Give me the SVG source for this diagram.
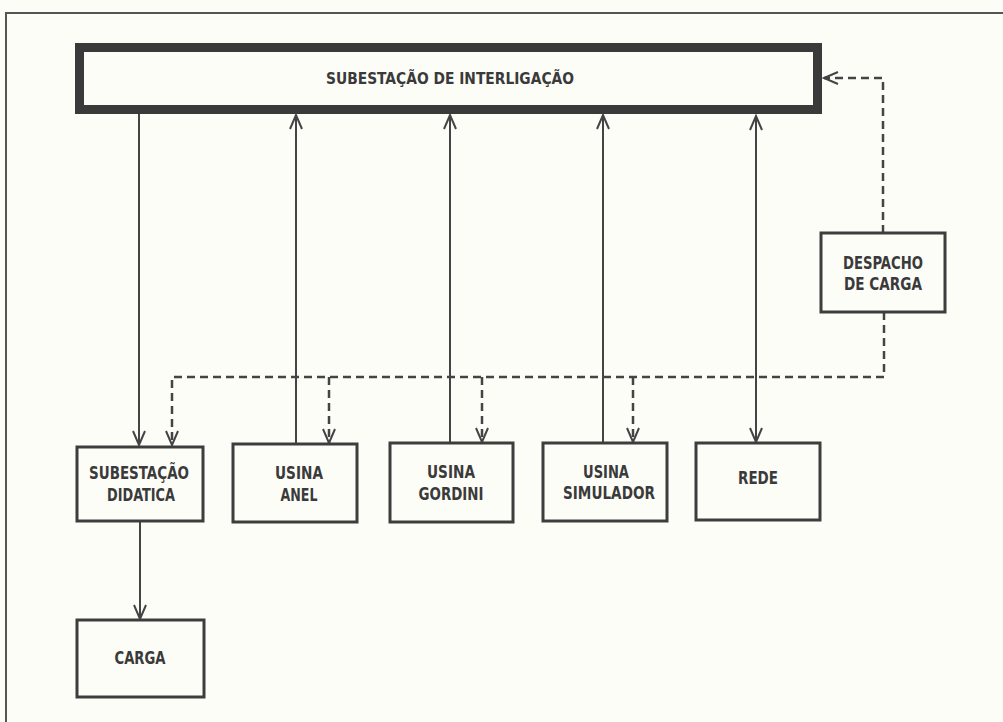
<svg xmlns="http://www.w3.org/2000/svg" width="1003" height="722" viewBox="0 0 1003 722">
<defs>
<style>
.bg{fill:#fdfdf8}
.frame{fill:none;stroke:#555;stroke-width:2}
.box{fill:none;stroke:#3d3d3d;stroke-width:3}
.main{fill:none;stroke:#3a3a3a;stroke-width:9}
.t{font-family:"Liberation Sans Narrow","DejaVu Sans Condensed","Liberation Sans",sans-serif;font-size:18px;font-weight:bold;fill:#3a3a3a;text-anchor:middle}
.tt{font-size:15px}
.solid{fill:none;stroke:#444;stroke-width:2}
.dash{fill:none;stroke:#444;stroke-width:2.5;stroke-dasharray:8 5}
</style>
<marker id="ah" markerUnits="userSpaceOnUse" viewBox="-16 -8 18 16" refX="0" refY="0" markerWidth="18" markerHeight="16" orient="auto-start-reverse">
<path d="M-14,-6 L0,0 L-14,6" fill="none" stroke="#444" stroke-width="2"/>
</marker>
</defs>
<rect class="bg" x="0" y="0" width="1003" height="722"/>
<path class="frame" d="M6,722 L6,13 L1003,13"/>

<g id="connectors">
<line class="solid" x1="139" y1="114" x2="139" y2="445" marker-end="url(#ah)"/>
<line class="solid" x1="296" y1="444" x2="296" y2="115" marker-end="url(#ah)"/>
<line class="solid" x1="450" y1="443" x2="450" y2="115" marker-end="url(#ah)"/>
<line class="solid" x1="603" y1="443" x2="603" y2="115" marker-end="url(#ah)"/>
<line class="solid" x1="756" y1="116" x2="756" y2="442" marker-start="url(#ah)" marker-end="url(#ah)"/>
<line class="solid" x1="140" y1="521" x2="140" y2="619" marker-end="url(#ah)"/>
<path class="dash" d="M883,233 L883,78 L824,78" marker-end="url(#ah)"/>
<path class="dash" d="M884,312 L884,377 L172,377 L172,445" marker-end="url(#ah)"/>
<path class="dash" d="M329,377 L329,443" marker-end="url(#ah)"/>
<path class="dash" d="M482,377 L482,442" marker-end="url(#ah)"/>
<path class="dash" d="M633,377 L633,442" marker-end="url(#ah)"/>
</g>

<g id="subestacao-interligacao">
<rect class="main" x="79.5" y="47.5" width="738" height="62"/>
<text class="t tt" x="450" y="84" textLength="248" lengthAdjust="spacingAndGlyphs">SUBESTAÇÃO DE INTERLIGAÇÃO</text>
</g>

<g id="despacho">
<rect class="box" x="821" y="233" width="124" height="79"/>
<text class="t" x="883" y="269" textLength="80" lengthAdjust="spacingAndGlyphs">DESPACHO</text>
<text class="t" x="883" y="290" textLength="78" lengthAdjust="spacingAndGlyphs">DE CARGA</text>
</g>

<g id="subestacao-didatica">
<rect class="box" x="77" y="447" width="126" height="74"/>
<text class="t" x="139" y="479" textLength="100" lengthAdjust="spacingAndGlyphs">SUBESTAÇÃO</text>
<text class="t" x="141" y="501" textLength="68" lengthAdjust="spacingAndGlyphs">DIDATICA</text>
</g>

<g id="usina-anel">
<rect class="box" x="233" y="444" width="124" height="78"/>
<text class="t" x="299" y="479" textLength="48" lengthAdjust="spacingAndGlyphs">USINA</text>
<text class="t" x="299" y="501" textLength="37" lengthAdjust="spacingAndGlyphs">ANEL</text>
</g>

<g id="usina-gordini">
<rect class="box" x="390" y="443" width="123" height="79"/>
<text class="t" x="451" y="478" textLength="48" lengthAdjust="spacingAndGlyphs">USINA</text>
<text class="t" x="451" y="500" textLength="65" lengthAdjust="spacingAndGlyphs">GORDINI</text>
</g>

<g id="usina-simulador">
<rect class="box" x="543" y="443" width="124" height="78"/>
<text class="t" x="606" y="478" textLength="46" lengthAdjust="spacingAndGlyphs">USINA</text>
<text class="t" x="609" y="499" textLength="92" lengthAdjust="spacingAndGlyphs">SIMULADOR</text>
</g>

<g id="rede">
<rect class="box" x="696" y="443" width="124" height="77"/>
<text class="t" x="758" y="484" textLength="40" lengthAdjust="spacingAndGlyphs">REDE</text>
</g>

<g id="carga">
<rect class="box" x="77" y="620" width="127" height="77"/>
<text class="t" x="140" y="664" textLength="51" lengthAdjust="spacingAndGlyphs">CARGA</text>
</g>
</svg>
